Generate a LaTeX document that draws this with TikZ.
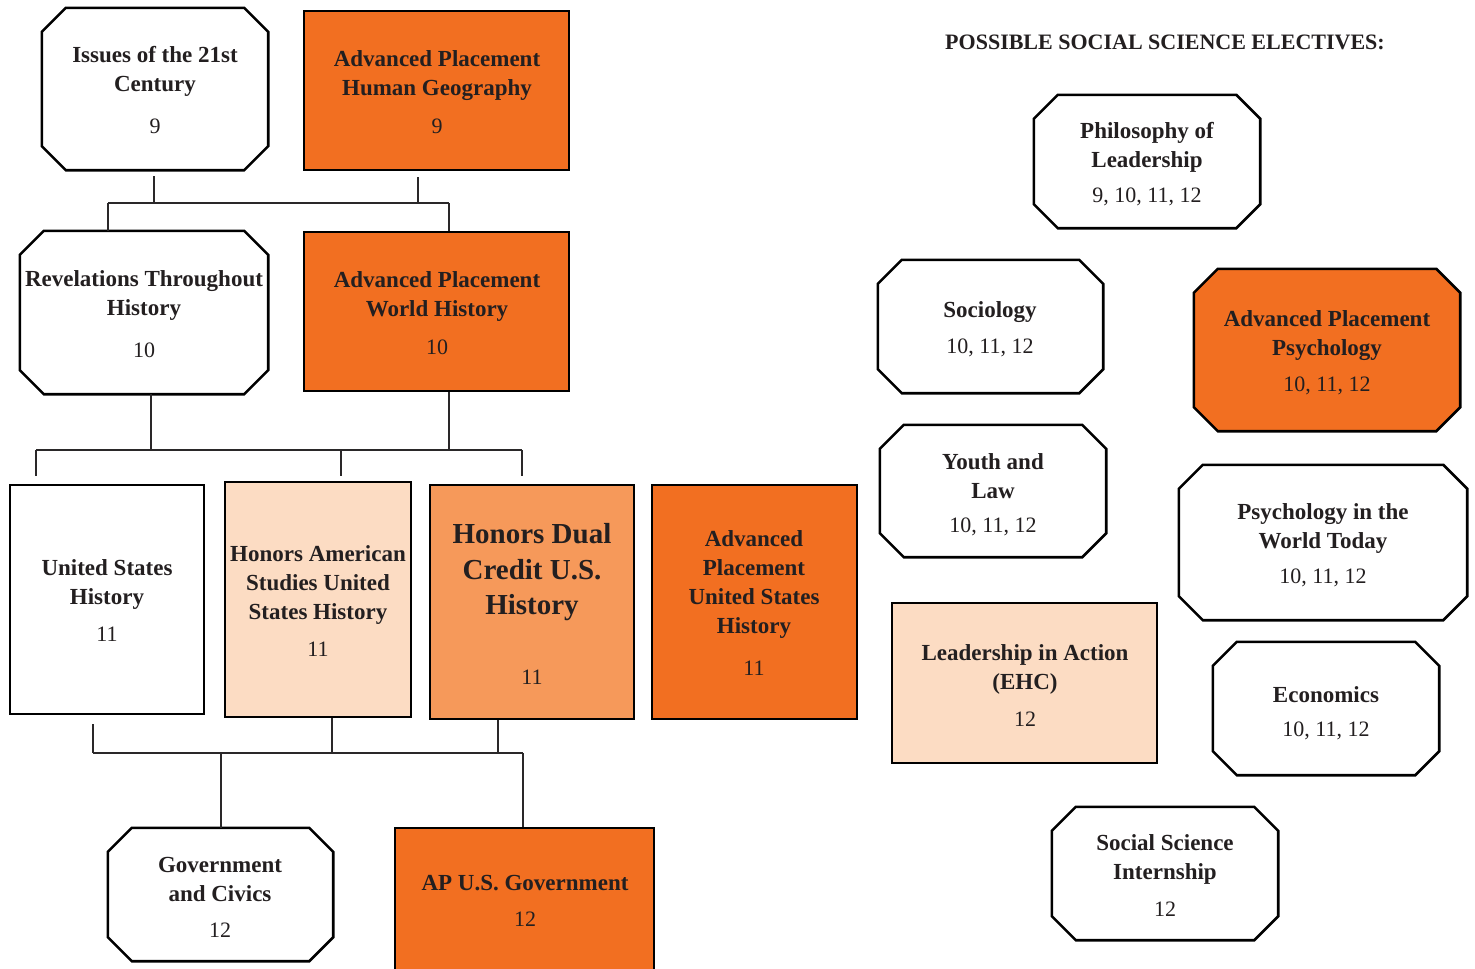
\documentclass[tikz,border=0pt]{standalone}
\usepackage{fontspec}
\setmainfont{Liberation Serif}
\usetikzlibrary{calc}
\definecolor{apor}{HTML}{F26F21}
\definecolor{midor}{HTML}{F6995A}
\definecolor{peach}{HTML}{FCDCC3}
\definecolor{ink}{HTML}{231F20}
\definecolor{wire}{HTML}{2A2829}
\tikzset{
  rbase/.style={draw=black, line width=2.6pt, rectangle, inner sep=0pt},
  obase/.style={rectangle, inner sep=0pt, draw=none},
  octline/.style={draw=black, line width=2.6pt, line join=miter},
  ttl/.style={font=\fontsize{23}{29}\selectfont\bfseries, align=center, text=ink, inner sep=0pt, yshift=-2pt},
  bigttl/.style={font=\fontsize{29}{35.5}\selectfont\bfseries, align=center, text=ink, inner sep=0pt, yshift=-3pt},
  num/.style={font=\fontsize{22}{26}\selectfont, text=ink, inner sep=0pt, yshift=-1pt},
  conn/.style={draw=wire, line width=2.8pt},
}
\newcommand\rbox[6]{%
  \node[rbase, fill=#6, minimum width=#4-#2, minimum height=#5-#3] (#1) at ({(#2+#4)/2},{(#3+#5)/2}) {};}
\newcommand\obox[6]{%
  \node[obase, minimum width=#4-#2, minimum height=#5-#3] (#1) at ({(#2+#4)/2},{(#3+#5)/2}) {};
  \draw[octline, fill=#6] ([xshift=24pt]#1.north west) -- ([xshift=-24pt]#1.north east)
    -- ([yshift=-24pt]#1.north east) -- ([yshift=24pt]#1.south east)
    -- ([xshift=-24pt]#1.south east) -- ([xshift=24pt]#1.south west)
    -- ([yshift=24pt]#1.south west) -- ([yshift=-24pt]#1.north west) -- cycle;}
\begin{document}
\begin{tikzpicture}[x=1pt, y=-1pt]
\useasboundingbox (0,0) rectangle (1475,969);
\fill[white] (0,0) rectangle (1475,969);

% ---------- left: sequence ----------
\obox{iss}{42}{8}{268}{170}{white}
\rbox{aphg}{304}{11}{569}{170}{apor}
\obox{rev}{20}{231}{268}{394}{white}
\rbox{apwh}{304}{232}{569}{391}{apor}
\rbox{ush}{10}{485}{204}{714}{white}
\rbox{has}{225}{482}{411}{717}{peach}
\rbox{hdc}{430}{485}{634}{719}{midor}
\rbox{apush}{652}{485}{857}{719}{apor}
\obox{gov}{108}{828}{333}{961}{white}
\rbox{apgov}{395}{828}{654}{975}{apor}

\node[ttl] (iss-t) at (155,69) {Issues of the 21st\\Century};
\node[num] (iss-n) at (155,125) {9};
\node[ttl] (aphg-t) at (437,74) {Advanced Placement\\Human Geography};
\node[num] (aphg-n) at (437,125) {9};
\node[ttl] (rev-t) at (144,293.5) {Revelations Throughout\\History};
\node[num] (rev-n) at (144,349) {10};
\node[ttl] (apwh-t) at (437,294.5) {Advanced Placement\\World History};
\node[num] (apwh-n) at (437,346) {10};
\node[ttl] (ush-t) at (107,582.5) {United States\\History};
\node[num] (ush-n) at (107,633) {11};
\node[ttl] (has-t) at (318,582.5) {Honors American\\Studies United\\States History};
\node[num] (has-n) at (318,648) {11};
\node[bigttl] (hdc-t) at (532,569.5) {Honors Dual\\Credit U.S.\\History};
\node[num] (hdc-n) at (532,676) {11};
\node[ttl] (apush-t) at (754,582.5) {Advanced\\Placement\\United States\\History};
\node[num] (apush-n) at (754,667) {11};
\node[ttl] (gov-t) at (220,877) {Government\\and Civics};
\node[num] (gov-n) at (220,929) {12};
\node[ttl] (apgov-t) at (525,881) {AP U.S. Government};
\node[num] (apgov-n) at (525,918) {12};

% ---------- connectors ----------
\coordinate (b1l) at (108,203);
\coordinate (b1r) at (449,203);
\coordinate (d1) at (154,203);
\coordinate (d2) at (418,203);
\draw[conn] ($(d1 |- iss.south)+(0,6)$) -- (d1);
\draw[conn] ($(d2 |- aphg.south)+(0,6)$) -- (d2);
\draw[conn] (b1l) -- (b1r);
\draw[conn] (b1l) -- (b1l |- rev.north);
\draw[conn] (b1r) -- (b1r |- apwh.north);

\coordinate (b2l) at (36,450);
\coordinate (b2m) at (341,450);
\coordinate (b2r) at (522,450);
\coordinate (u1) at (151,450);
\coordinate (u2) at (449,450);
\draw[conn] (u1 |- rev.south) -- (u1);
\draw[conn] (u2 |- apwh.south) -- (u2);
\draw[conn] (b2l) -- (b2r);
\draw[conn] (b2l) -- ($(b2l |- ush.north)+(0,-8)$);
\draw[conn] (b2m) -- ($(b2m |- has.north)+(0,-5)$);
\draw[conn] (b2r) -- ($(b2r |- hdc.north)+(0,-8)$);

\coordinate (b3l) at (93,753);
\coordinate (b3r) at (523,753);
\coordinate (v2) at (332,753);
\coordinate (v3) at (498,753);
\coordinate (g1) at (221,753);
\draw[conn] ($(b3l |- ush.south)+(0,9)$) -- (b3l);
\draw[conn] (v2 |- has.south) -- (v2);
\draw[conn] (v3 |- hdc.south) -- (v3);
\draw[conn] (b3l) -- (b3r);
\draw[conn] (g1) -- (g1 |- gov.north);
\draw[conn] (b3r) -- (b3r |- apgov.north);

% ---------- right: electives ----------
\node[font=\fontsize{22}{26}\selectfont\bfseries, text=ink, inner sep=0pt] (head) at (1165,42) {POSSIBLE SOCIAL SCIENCE ELECTIVES:};

\obox{phil}{1034}{95}{1260}{228}{white}
\obox{soc}{878}{260}{1103}{393}{white}
\obox{appsy}{1194}{269}{1460}{431}{apor}
\obox{youth}{880}{425}{1106}{557}{white}
\obox{psyw}{1179}{465}{1467}{620}{white}
\rbox{lia}{892}{603}{1157}{763}{peach}
\obox{econ}{1213}{642}{1439}{775}{white}
\obox{intern}{1052}{807}{1278}{940}{white}

\node[ttl] (phil-t) at (1147,145) {Philosophy of\\Leadership};
\node[num] (phil-n) at (1147,196) {9, 10, 11, 12};
\node[ttl] (soc-t) at (990,310) {Sociology};
\node[num] (soc-n) at (990,347) {10, 11, 12};
\node[ttl] (appsy-t) at (1327,333.5) {Advanced Placement\\Psychology};
\node[num] (appsy-n) at (1327,385) {10, 11, 12};
\node[ttl] (youth-t) at (993,474.5) {Youth and\\Law};
\node[num] (youth-n) at (993,526) {10, 11, 12};
\node[ttl] (psyw-t) at (1323,526) {Psychology in the\\World Today};
\node[num] (psyw-n) at (1323,577) {10, 11, 12};
\node[ttl] (lia-t) at (1025,667) {Leadership in Action\\(EHC)};
\node[num] (lia-n) at (1025,718) {12};
\node[ttl] (econ-t) at (1326,693) {Economics};
\node[num] (econ-n) at (1326,730) {10, 11, 12};
\node[ttl] (intern-t) at (1165,857) {Social Science\\Internship};
\node[num] (intern-n) at (1165,908) {12};
\end{tikzpicture}
\end{document}
